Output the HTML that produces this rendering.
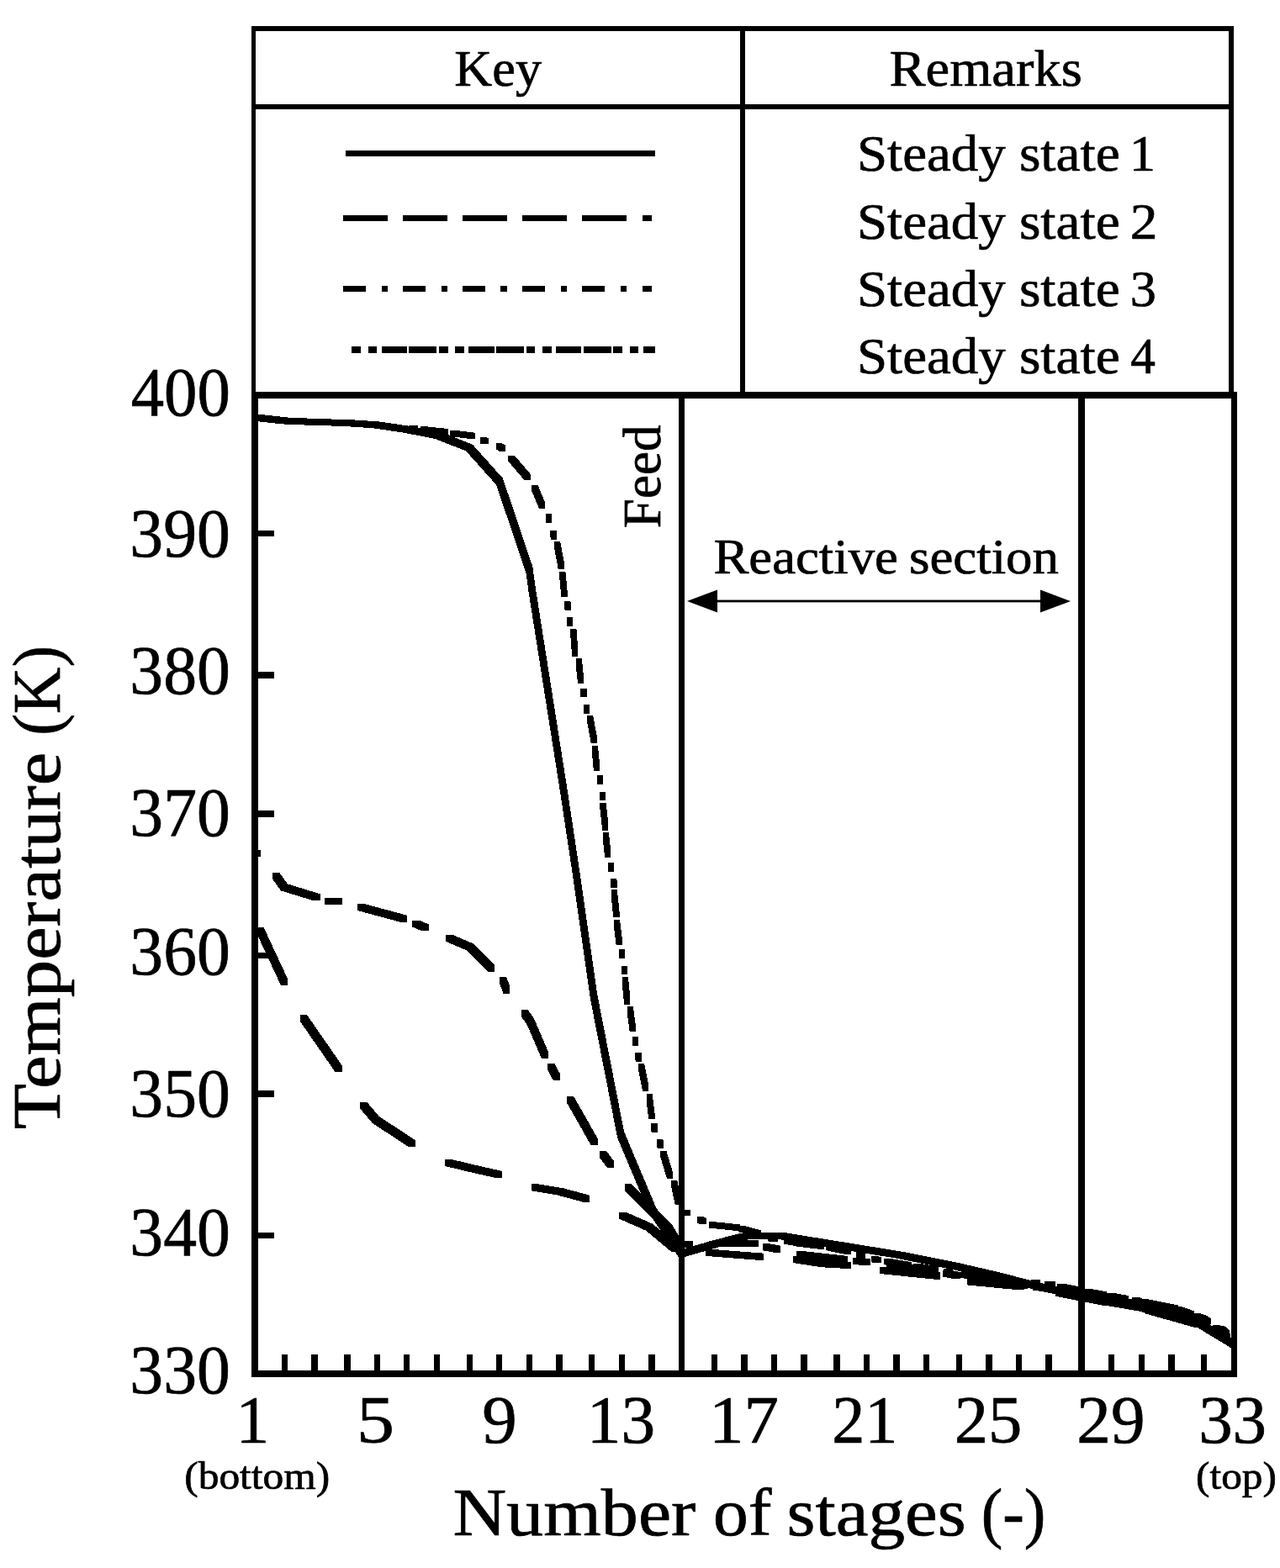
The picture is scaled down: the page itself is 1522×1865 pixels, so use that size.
<!DOCTYPE html>
<html lang="en"><head><meta charset="utf-8"><title>Temperature profiles</title>
<style>
html,body{margin:0;padding:0;background:#fff;}
body{width:1522px;height:1865px;overflow:hidden;font-family:"Liberation Serif",serif;}
svg{display:block}
</style></head><body>
<svg width="1522" height="1865" viewBox="0 0 1522 1865">
<rect width="1522" height="1865" fill="#fff"/>
<g fill="#000" shape-rendering="crispEdges">
<rect x="299" y="31" width="1168" height="6"/>
<rect x="299" y="124" width="1168" height="6"/>
<rect x="299" y="31" width="5" height="439"/>
<rect x="1461" y="31" width="6" height="439"/>
<rect x="880" y="31" width="6" height="439"/>
<rect x="299" y="466" width="1172" height="8"/>
<rect x="299" y="1630" width="1172" height="8"/>
<rect x="299" y="466" width="8" height="1172"/>
<rect x="1464" y="466" width="7" height="1172"/>
<rect x="807" y="466" width="7" height="1172"/>
<rect x="1282" y="466" width="8" height="1172"/>
<rect x="335" y="1611" width="7" height="21"/>
<rect x="370" y="1611" width="8" height="21"/>
<rect x="409" y="1611" width="8" height="21"/>
<rect x="445" y="1611" width="7" height="21"/>
<rect x="480" y="1611" width="7" height="21"/>
<rect x="516" y="1611" width="7" height="21"/>
<rect x="555" y="1611" width="7" height="21"/>
<rect x="590" y="1611" width="7" height="21"/>
<rect x="626" y="1611" width="7" height="21"/>
<rect x="661" y="1611" width="8" height="21"/>
<rect x="700" y="1611" width="7" height="21"/>
<rect x="736" y="1611" width="7" height="21"/>
<rect x="771" y="1611" width="8" height="21"/>
<rect x="846" y="1611" width="7" height="21"/>
<rect x="881" y="1611" width="8" height="21"/>
<rect x="917" y="1611" width="7" height="21"/>
<rect x="952" y="1611" width="8" height="21"/>
<rect x="991" y="1611" width="8" height="21"/>
<rect x="1027" y="1611" width="7" height="21"/>
<rect x="1062" y="1611" width="8" height="21"/>
<rect x="1098" y="1611" width="7" height="21"/>
<rect x="1137" y="1611" width="7" height="21"/>
<rect x="1172" y="1611" width="8" height="21"/>
<rect x="1208" y="1611" width="7" height="21"/>
<rect x="1243" y="1611" width="8" height="21"/>
<rect x="1318" y="1611" width="7" height="21"/>
<rect x="1354" y="1611" width="7" height="21"/>
<rect x="1389" y="1611" width="8" height="21"/>
<rect x="1428" y="1611" width="7" height="21"/>
<rect x="305" y="631" width="21" height="7"/>
<rect x="305" y="799" width="21" height="8"/>
<rect x="305" y="964" width="21" height="8"/>
<rect x="305" y="1133" width="21" height="7"/>
<rect x="305" y="1297" width="21" height="8"/>
<rect x="305" y="1466" width="21" height="7"/>
<rect x="411" y="179" width="368" height="7"/>
<rect x="408" y="256" width="53" height="7"/>
<rect x="479" y="256" width="53" height="7"/>
<rect x="550" y="256" width="53" height="7"/>
<rect x="621" y="256" width="53" height="7"/>
<rect x="692" y="256" width="53" height="7"/>
<rect x="764" y="256" width="11" height="7"/>
<rect x="408" y="340" width="27" height="7"/>
<rect x="454" y="340" width="7" height="7"/>
<rect x="479" y="340" width="27" height="7"/>
<rect x="525" y="340" width="7" height="7"/>
<rect x="550" y="340" width="27" height="7"/>
<rect x="595" y="340" width="8" height="7"/>
<rect x="621" y="340" width="27" height="7"/>
<rect x="667" y="340" width="7" height="7"/>
<rect x="692" y="340" width="27" height="7"/>
<rect x="738" y="340" width="7" height="7"/>
<rect x="764" y="340" width="11" height="7"/>
<rect x="418" y="412" width="11" height="8"/>
<rect x="438" y="412" width="10" height="8"/>
<rect x="454" y="412" width="30" height="8"/>
<rect x="486" y="412" width="33" height="8"/>
<rect x="522" y="412" width="11" height="8"/>
<rect x="541" y="412" width="11" height="8"/>
<rect x="557" y="412" width="31" height="8"/>
<rect x="590" y="412" width="33" height="8"/>
<rect x="626" y="412" width="10" height="8"/>
<rect x="645" y="412" width="11" height="8"/>
<rect x="661" y="412" width="30" height="8"/>
<rect x="694" y="412" width="33" height="8"/>
<rect x="729" y="412" width="11" height="8"/>
<rect x="749" y="412" width="10" height="8"/>
<rect x="765" y="412" width="14" height="8"/>
</g>
<g fill="#000" stroke="none">
<rect x="840" y="713.6" width="410" height="2.8"/>
<polygon points="817,715 853,701.5 853,728.5"/>
<polygon points="1273,715 1237,701.5 1237,728.5"/>
</g>
<g fill="#000" stroke="none" shape-rendering="crispEdges">
<path d="M299.1,492.6 306.9,492.6 343.3,496.6 343.3,504.4 335.5,504.4 299.1,500.4ZM335.5,496.6 343.3,496.6 379.7,498.1 379.7,505.9 371.9,505.9 335.5,504.4ZM371.9,498.1 379.7,498.1 416.1,499.1 416.1,506.9 408.3,506.9 371.9,505.9ZM408.3,499.1 416.1,499.1 452.5,501.6 452.5,509.4 444.7,509.4 408.3,506.9ZM444.7,501.6 452.5,501.6 488.9,507.1 488.9,514.9 481.1,514.9 444.7,509.4ZM481.1,507.1 488.9,507.1 525.2,514.1 525.2,521.9 517.4,521.9 481.1,514.9ZM517.4,514.1 525.2,514.1 561.9,528.7 561.9,536.5 554.1,536.5 517.4,521.9ZM554.1,528.7 561.9,528.7 597.9,568.9 597.9,576.7 590.1,576.7 554.1,536.5ZM590.1,568.9 597.9,568.9 633.4,674.1 633.4,681.9 625.6,681.9 590.1,576.7ZM625.6,674.1 633.4,674.1 636.3,696.1 636.3,703.9 628.5,703.9 625.6,681.9ZM628.5,696.1 636.3,696.1 674.9,941.1 674.9,948.9 667.1,948.9 628.5,703.9ZM667.1,941.1 674.9,941.1 689.2,1036.1 689.2,1043.9 681.4,1043.9 667.1,948.9ZM681.4,1036.1 689.2,1036.1 709.9,1181.1 709.9,1188.9 702.1,1188.9 681.4,1043.9ZM702.1,1181.1 709.9,1181.1 730.4,1286.1 730.4,1293.9 722.6,1293.9 702.1,1188.9ZM722.6,1286.1 730.4,1286.1 741.9,1345.5 741.9,1353.3 734.1,1353.3 722.6,1293.9ZM734.1,1345.5 741.9,1345.5 780.0,1436.1 780.0,1443.9 772.2,1443.9 734.1,1353.3ZM772.2,1436.1 780.0,1436.1 814.4,1487.1 814.4,1494.9 806.6,1494.9 772.2,1443.9ZM806.6,1487.1 844.9,1476.1 852.7,1476.1 852.7,1483.9 814.4,1494.9 806.6,1494.9ZM844.9,1476.1 881.3,1466.6 889.1,1466.6 889.1,1474.4 852.7,1483.9 844.9,1483.9ZM881.3,1466.6 897.1,1466.1 904.9,1466.1 904.9,1473.9 889.1,1474.4 881.3,1474.4ZM897.1,1466.1 904.9,1466.1 934.9,1466.4 934.9,1474.2 927.1,1474.2 897.1,1473.9ZM927.1,1466.4 934.9,1466.4 1073.9,1488.9 1073.9,1496.7 1066.1,1496.7 927.1,1474.2ZM1066.1,1488.9 1073.9,1488.9 1139.6,1502.0 1139.6,1509.8 1131.8,1509.8 1066.1,1496.7ZM1131.8,1502.0 1139.6,1502.0 1191.9,1514.1 1191.9,1521.9 1184.1,1521.9 1131.8,1509.8ZM1184.1,1514.1 1191.9,1514.1 1223.9,1522.6 1223.9,1530.4 1216.1,1530.4 1184.1,1521.9ZM1216.1,1522.6 1223.9,1522.6 1257.9,1530.6 1257.9,1538.4 1250.1,1538.4 1216.1,1530.4ZM1250.1,1530.6 1257.9,1530.6 1293.9,1537.6 1293.9,1545.4 1286.1,1545.4 1250.1,1538.4ZM1286.1,1537.6 1293.9,1537.6 1320.9,1544.6 1320.9,1552.4 1313.1,1552.4 1286.1,1545.4ZM1313.1,1544.6 1320.9,1544.6 1360.9,1551.6 1360.9,1559.4 1353.1,1559.4 1313.1,1552.4ZM1353.1,1551.6 1360.9,1551.6 1394.9,1558.6 1394.9,1566.4 1387.1,1566.4 1353.1,1559.4ZM1387.1,1558.6 1394.9,1558.6 1428.9,1569.6 1428.9,1577.4 1421.1,1577.4 1387.1,1566.4ZM1421.1,1569.6 1428.9,1569.6 1470.9,1595.1 1470.9,1602.9 1463.1,1602.9 1421.1,1577.4Z"/>
<path d="M486.0,505.7 493.2,505.7 497.0,506.1 497.0,513.3 489.8,513.3 486.0,512.9Z"/>
<path d="M500.0,507.3 507.2,507.3 532.5,510.0 532.5,517.2 525.3,517.2 500.0,514.5Z"/>
<path d="M534.5,511.8 541.7,511.8 565.0,514.7 565.0,521.9 557.8,521.9 534.5,519.0Z"/>
<path d="M571.0,520.3 578.2,520.3 581.0,521.0 581.0,528.2 573.8,528.2 571.0,527.5Z"/>
<path d="M590.0,527.4 597.2,527.4 600.8,529.4 600.8,536.6 593.6,536.6 590.0,534.6Z"/>
<path d="M604.4,541.6 611.6,541.6 630.8,564.0 630.8,571.2 623.6,571.2 604.4,548.8Z"/>
<path d="M632.3,576.9 639.5,576.9 648.1,597.6 648.1,604.8 640.9,604.8 632.3,584.1Z"/>
<path d="M648.6,611.4 655.8,611.4 656.4,614.9 656.4,622.1 649.2,622.1 648.6,618.6Z"/>
<path d="M654.4,631.1 661.6,631.1 662.1,634.6 662.1,641.8 654.9,641.8 654.4,638.3Z"/>
<path d="M659.0,644.3 666.2,644.3 671.0,669.9 671.0,677.1 663.8,677.1 659.0,651.5Z"/>
<path d="M665.2,679.6 672.4,679.6 674.6,702.8 674.6,710.0 667.4,710.0 665.2,686.8Z"/>
<path d="M671.2,715.1 678.4,715.1 678.8,718.6 678.8,725.8 671.6,725.8 671.2,722.3Z"/>
<path d="M673.7,734.2 680.9,734.2 681.3,737.5 681.3,744.7 674.1,744.7 673.7,741.4Z"/>
<path d="M678.2,748.1 685.4,748.1 687.4,773.6 687.4,780.8 680.2,780.8 678.2,755.3Z"/>
<path d="M684.5,783.0 691.7,783.0 694.2,805.8 694.2,813.0 687.0,813.0 684.5,790.2Z"/>
<path d="M690.3,819.4 697.5,819.4 697.7,821.8 697.7,829.0 690.5,829.0 690.3,826.6Z"/>
<path d="M693.7,838.3 700.9,838.3 701.3,841.4 701.3,848.6 694.1,848.6 693.7,845.5Z"/>
<path d="M698.0,851.1 705.2,851.1 709.9,876.4 709.9,883.6 702.7,883.6 698.0,858.3Z"/>
<path d="M703.8,887.3 711.0,887.3 713.1,909.6 713.1,916.8 705.9,916.8 703.8,894.5Z"/>
<path d="M709.7,922.0 716.9,922.0 717.3,925.8 717.3,933.0 710.1,933.0 709.7,929.2Z"/>
<path d="M712.8,941.8 720.0,941.8 720.2,944.3 720.2,951.5 713.0,951.5 712.8,949.0Z"/>
<path d="M713.4,955.1 720.6,955.1 723.4,980.4 723.4,987.6 716.2,987.6 713.4,962.3Z"/>
<path d="M716.7,990.1 723.9,990.1 726.4,1012.8 726.4,1020.0 719.2,1020.0 716.7,997.3Z"/>
<path d="M722.7,1025.9 729.9,1025.9 730.3,1029.4 730.3,1036.6 723.1,1036.6 722.7,1033.1Z"/>
<path d="M726.1,1045.1 733.3,1045.1 733.7,1048.6 733.7,1055.8 726.5,1055.8 726.1,1052.3Z"/>
<path d="M726.5,1057.9 733.7,1057.9 736.5,1083.6 736.5,1090.8 729.3,1090.8 726.5,1065.1Z"/>
<path d="M729.8,1094.1 737.0,1094.1 739.8,1116.8 739.8,1124.0 732.6,1124.0 729.8,1101.3Z"/>
<path d="M735.7,1129.2 742.9,1129.2 743.3,1132.7 743.3,1139.9 736.1,1139.9 735.7,1136.4Z"/>
<path d="M738.8,1148.9 746.0,1148.9 746.2,1151.8 746.2,1159.0 739.0,1159.0 738.8,1156.1Z"/>
<path d="M739.7,1162.0 746.9,1162.0 749.4,1187.6 749.4,1194.8 742.2,1194.8 739.7,1169.2Z"/>
<path d="M745.6,1197.2 752.8,1197.2 755.9,1219.6 755.9,1226.8 748.7,1226.8 745.6,1204.4Z"/>
<path d="M751.7,1233.0 758.9,1233.0 759.3,1236.8 759.3,1244.0 752.1,1244.0 751.7,1240.2Z"/>
<path d="M755.3,1252.0 762.5,1252.0 763.0,1255.8 763.0,1263.0 755.8,1263.0 755.3,1259.2Z"/>
<path d="M758.9,1265.1 766.1,1265.1 771.3,1290.7 771.3,1297.9 764.1,1297.9 758.9,1272.3Z"/>
<path d="M768.5,1301.2 775.7,1301.2 778.5,1323.6 778.5,1330.8 771.3,1330.8 768.5,1308.4Z"/>
<path d="M774.3,1336.4 781.5,1336.4 781.8,1339.8 781.8,1347.0 774.6,1347.0 774.3,1343.6Z"/>
<path d="M781.2,1355.3 788.4,1355.3 788.9,1358.9 788.9,1366.1 781.7,1366.1 781.2,1362.5Z"/>
<path d="M785.3,1369.2 792.5,1369.2 800.1,1394.5 800.1,1401.7 792.9,1401.7 785.3,1376.4Z"/>
<path d="M798.1,1404.2 805.3,1404.2 809.8,1425.4 809.8,1432.6 802.6,1432.6 798.1,1411.4Z"/>
<path d="M813.9,1438.6 821.1,1438.6 821.1,1445.8 813.9,1445.8Z"/>
<path d="M829.0,1447.1 836.2,1447.1 840.0,1449.2 840.0,1456.4 832.8,1456.4 829.0,1454.3Z"/>
<path d="M843.0,1453.3 850.2,1453.3 879.4,1456.4 879.4,1463.6 872.2,1463.6 843.0,1460.5ZM872.2,1456.4 879.4,1456.4 879.5,1456.4 879.5,1463.6 872.3,1463.6 872.2,1463.6Z"/>
<path d="M878.0,1458.0 885.2,1458.0 905.0,1463.4 905.0,1470.6 897.8,1470.6 878.0,1465.2ZM897.8,1463.4 905.0,1463.4 905.1,1463.4 905.1,1470.6 897.9,1470.6 897.8,1470.6Z"/>
<path d="M912.9,1468.8 920.1,1468.8 922.6,1469.7 922.6,1476.9 915.4,1476.9 912.9,1476.0ZM915.4,1469.7 922.6,1469.7 925.1,1470.1 925.1,1477.3 917.9,1477.3 915.4,1476.9Z"/>
<path d="M931.9,1472.3 939.1,1472.3 941.6,1472.7 941.6,1479.9 934.4,1479.9 931.9,1479.5ZM934.4,1472.7 941.6,1472.7 944.7,1473.4 944.7,1480.6 937.5,1480.6 934.4,1479.9Z"/>
<path d="M942.9,1474.8 950.1,1474.8 950.6,1474.9 950.6,1482.1 943.4,1482.1 942.9,1482.0ZM943.4,1474.9 950.6,1474.9 979.5,1478.4 979.5,1485.6 972.3,1485.6 943.4,1482.1Z"/>
<path d="M982.0,1480.0 989.2,1480.0 1012.0,1484.7 1012.0,1491.9 1004.8,1491.9 982.0,1487.2Z"/>
<path d="M1018.0,1488.4 1025.2,1488.4 1029.0,1489.6 1029.0,1496.8 1021.8,1496.8 1018.0,1495.6Z"/>
<path d="M1035.9,1494.0 1043.0,1494.0 1045.6,1494.8 1045.6,1502.0 1038.4,1502.0 1035.9,1501.2ZM1038.4,1494.8 1045.6,1494.8 1048.1,1495.2 1048.1,1502.4 1041.0,1502.4 1038.4,1502.0Z"/>
<path d="M1051.0,1496.9 1058.2,1496.9 1084.0,1501.2 1084.0,1508.4 1076.8,1508.4 1051.0,1504.1Z"/>
<path d="M1086.0,1502.7 1093.2,1502.7 1103.6,1504.4 1103.6,1511.6 1096.4,1511.6 1086.0,1509.9ZM1096.4,1504.4 1103.6,1504.4 1116.0,1506.6 1116.0,1513.8 1108.8,1513.8 1096.4,1511.6Z"/>
<path d="M1122.0,1509.0 1129.2,1509.0 1133.0,1509.7 1133.0,1516.9 1125.8,1516.9 1122.0,1516.2Z"/>
<path d="M1142.0,1512.6 1149.2,1512.6 1153.6,1513.4 1153.6,1520.6 1146.4,1520.6 1142.0,1519.8ZM1146.4,1513.4 1153.6,1513.4 1154.6,1513.5 1154.6,1520.7 1147.4,1520.7 1146.4,1520.6Z"/>
<path d="M1155.0,1514.4 1162.2,1514.4 1188.0,1517.5 1188.0,1524.7 1180.8,1524.7 1155.0,1521.6Z"/>
<path d="M1190.0,1518.6 1197.2,1518.6 1203.6,1519.4 1203.6,1526.6 1196.4,1526.6 1190.0,1525.8ZM1196.4,1519.4 1203.6,1519.4 1220.0,1520.9 1220.0,1528.1 1212.8,1528.1 1196.4,1526.6Z"/>
<path d="M1226.0,1522.2 1233.2,1522.2 1237.0,1522.5 1237.0,1529.7 1229.8,1529.7 1226.0,1529.4Z"/>
<path d="M1241.9,1523.7 1249.0,1523.7 1251.6,1523.9 1251.6,1531.1 1244.4,1531.1 1241.9,1530.9ZM1244.4,1523.9 1251.6,1523.9 1254.7,1524.5 1254.7,1531.7 1247.5,1531.7 1244.4,1531.1Z"/>
<path d="M1257.0,1526.5 1264.2,1526.5 1282.0,1530.1 1282.0,1537.3 1274.8,1537.3 1257.0,1533.7Z"/>
<path d="M1290.0,1533.0 1297.2,1533.0 1316.0,1536.4 1316.0,1543.6 1308.8,1543.6 1290.0,1540.2Z"/>
<path d="M1316.0,1537.7 1323.2,1537.7 1342.0,1541.0 1342.0,1548.2 1334.8,1548.2 1316.0,1544.9Z"/>
<path d="M1345.9,1542.9 1353.0,1542.9 1355.6,1543.4 1355.6,1550.6 1348.4,1550.6 1345.9,1550.1ZM1348.4,1543.4 1355.6,1543.4 1358.1,1543.9 1358.1,1551.1 1351.0,1551.1 1348.4,1550.6Z"/>
<path d="M1357.0,1545.1 1364.2,1545.1 1400.6,1552.4 1400.6,1559.6 1393.4,1559.6 1357.0,1552.3ZM1393.4,1552.4 1400.6,1552.4 1401.1,1552.6 1401.1,1559.8 1393.9,1559.8 1393.4,1559.6Z"/>
<path d="M1398.0,1554.1 1405.2,1554.1 1420.0,1559.5 1420.0,1566.7 1412.8,1566.7 1398.0,1561.3Z"/>
<path d="M1420.0,1562.1 1427.2,1562.1 1433.6,1564.4 1433.6,1571.6 1426.4,1571.6 1420.0,1569.3ZM1426.4,1564.4 1433.6,1564.4 1440.0,1568.1 1440.0,1575.3 1432.8,1575.3 1426.4,1571.6Z"/>
<path d="M1448.9,1577.4 1456.0,1577.4 1458.6,1578.9 1458.6,1586.1 1451.4,1586.1 1448.9,1584.6ZM1451.4,1578.9 1458.6,1578.9 1461.7,1582.3 1461.7,1589.5 1454.5,1589.5 1451.4,1586.1Z"/>
<path d="M302.0,1011.2 310.0,1011.2 310.1,1011.3 310.1,1019.3 302.1,1019.3 302.0,1019.2Z"/>
<path d="M323.9,1037.5 331.9,1037.5 342.0,1051.4 342.0,1059.4 334.0,1059.4 323.9,1045.5ZM334.0,1051.4 342.0,1051.4 380.7,1063.3 380.7,1071.3 372.7,1071.3 334.0,1059.4Z"/>
<path d="M386.2,1067.5 407.0,1067.5 407.0,1075.5 386.2,1075.5Z"/>
<path d="M425.1,1075.0 433.1,1075.0 483.9,1088.7 483.9,1096.7 475.9,1096.7 425.1,1083.0Z"/>
<path d="M490.1,1094.5 498.1,1094.5 509.8,1099.3 509.8,1107.3 501.8,1107.3 490.1,1102.5Z"/>
<path d="M529.6,1111.6 537.6,1111.6 562.3,1122.2 562.3,1130.2 554.3,1130.2 529.6,1119.6ZM554.3,1122.2 562.3,1122.2 588.0,1147.6 588.0,1155.6 580.0,1155.6 554.3,1130.2Z"/>
<path d="M594.3,1162.2 602.3,1162.2 606.4,1173.6 606.4,1181.6 598.4,1181.6 594.3,1170.2Z"/>
<path d="M619.7,1201.3 627.7,1201.3 634.5,1210.5 634.5,1218.5 626.5,1218.5 619.7,1209.3ZM626.5,1210.5 634.5,1210.5 652.0,1251.1 652.0,1259.1 644.0,1259.1 626.5,1218.5Z"/>
<path d="M651.3,1265.0 659.3,1265.0 665.7,1276.8 665.7,1284.8 657.7,1284.8 651.3,1273.0Z"/>
<path d="M674.3,1304.3 682.3,1304.3 710.8,1354.3 710.8,1362.3 702.8,1362.3 674.3,1312.3Z"/>
<path d="M713.0,1368.9 721.0,1368.9 729.8,1380.9 729.8,1388.9 721.8,1388.9 713.0,1376.9Z"/>
<path d="M742.5,1408.0 750.5,1408.0 799.1,1456.5 799.1,1464.5 791.1,1464.5 742.5,1416.0ZM791.1,1456.5 799.1,1456.5 809.6,1474.0 809.6,1482.0 801.6,1482.0 791.1,1464.5Z"/>
<path d="M814.0,1475.9 816.0,1475.8 824.0,1475.8 824.0,1483.8 822.0,1483.9 814.0,1483.9Z"/>
<path d="M847.6,1475.4 902.0,1475.4 902.0,1483.4 847.6,1483.4Z"/>
<path d="M907.0,1479.3 915.0,1479.3 928.0,1481.7 928.0,1489.7 920.0,1489.7 907.0,1487.3Z"/>
<path d="M947.0,1488.0 955.0,1488.0 1008.0,1494.0 1008.0,1502.0 1000.0,1502.0 947.0,1496.0Z"/>
<path d="M1014.0,1495.7 1022.0,1495.7 1035.0,1497.2 1035.0,1505.2 1027.0,1505.2 1014.0,1503.7Z"/>
<path d="M1054.0,1500.6 1062.0,1500.6 1115.0,1508.4 1115.0,1516.4 1107.0,1516.4 1054.0,1508.6Z"/>
<path d="M1121.0,1510.7 1129.0,1510.7 1142.0,1513.0 1142.0,1521.0 1134.0,1521.0 1121.0,1518.7Z"/>
<path d="M1161.0,1517.5 1169.0,1517.5 1222.0,1524.5 1222.0,1532.5 1214.0,1532.5 1161.0,1525.5Z"/>
<path d="M1228.0,1526.5 1236.0,1526.5 1249.0,1528.5 1249.0,1536.5 1241.0,1536.5 1228.0,1534.5Z"/>
<path d="M1268.0,1532.7 1276.0,1532.7 1329.0,1542.3 1329.0,1550.3 1321.0,1550.3 1268.0,1540.7Z"/>
<path d="M1335.0,1544.7 1343.0,1544.7 1356.0,1547.0 1356.0,1555.0 1348.0,1555.0 1335.0,1552.7Z"/>
<path d="M1375.0,1552.1 1383.0,1552.1 1436.0,1566.9 1436.0,1574.9 1428.0,1574.9 1375.0,1560.1Z"/>
<path d="M1442.0,1576.1 1450.0,1576.1 1463.0,1586.5 1463.0,1594.5 1455.0,1594.5 1442.0,1584.1Z"/>
<path d="M305.7,1103.3 313.7,1103.3 342.1,1164.3 342.1,1172.3 334.1,1172.3 305.7,1111.3Z"/>
<path d="M357.2,1207.3 365.2,1207.3 379.8,1228.5 379.8,1236.5 371.8,1236.5 357.2,1215.3ZM371.8,1228.5 379.8,1228.5 406.8,1267.4 406.8,1275.4 398.8,1275.4 371.8,1236.5Z"/>
<path d="M428.0,1310.5 436.0,1310.5 450.9,1328.0 450.9,1336.0 442.9,1336.0 428.0,1318.5ZM442.9,1328.0 450.9,1328.0 493.8,1356.0 493.8,1364.0 485.8,1364.0 442.9,1336.0Z"/>
<path d="M529.1,1379.0 537.1,1379.0 566.6,1386.0 566.6,1394.0 558.6,1394.0 529.1,1387.0ZM558.6,1386.0 566.6,1386.0 597.1,1393.0 597.1,1401.0 589.1,1401.0 558.6,1394.0Z"/>
<path d="M632.0,1408.4 640.0,1408.4 671.1,1413.6 671.1,1421.6 663.1,1421.6 632.0,1416.4ZM663.1,1413.6 671.1,1413.6 701.0,1421.7 701.0,1429.7 693.0,1429.7 663.1,1421.6Z"/>
<path d="M736.1,1441.6 744.1,1441.6 776.1,1455.7 776.1,1463.7 768.1,1463.7 736.1,1449.6ZM768.1,1455.7 776.1,1455.7 806.0,1480.7 806.0,1488.7 798.0,1488.7 768.1,1463.7Z"/>
<path d="M839.0,1485.9 847.0,1485.9 908.0,1490.7 908.0,1498.7 900.0,1498.7 839.0,1493.9Z"/>
<path d="M943.0,1494.1 951.0,1494.1 984.0,1499.2 984.0,1507.2 976.0,1507.2 943.0,1502.1ZM976.0,1499.2 984.0,1499.2 1012.0,1500.8 1012.0,1508.8 1004.0,1508.8 976.0,1507.2Z"/>
<path d="M1046.0,1507.0 1054.0,1507.0 1118.0,1513.5 1118.0,1521.5 1110.0,1521.5 1046.0,1515.0ZM1110.0,1513.5 1118.0,1513.5 1118.4,1513.6 1118.4,1521.6 1110.4,1521.6 1110.0,1521.5Z"/>
<path d="M1150.0,1520.4 1158.0,1520.4 1217.8,1526.2 1217.8,1534.2 1209.8,1534.2 1150.0,1528.4Z"/>
<path d="M1255.0,1533.8 1263.0,1533.8 1322.0,1545.2 1322.0,1553.2 1314.0,1553.2 1255.0,1541.8Z"/>
<path d="M1361.0,1554.1 1369.0,1554.1 1428.0,1570.9 1428.0,1578.9 1420.0,1578.9 1361.0,1562.1Z"/>
</g>
<g font-family="'Liberation Serif', serif" fill="#000" stroke="#000" stroke-width="0.7" stroke-linejoin="round">
<text y="101.8" font-size="62" ><tspan x="540.39" textLength="103.76" lengthAdjust="spacingAndGlyphs">Key</tspan></text>
<text y="102.3" font-size="62" ><tspan x="1057.63" textLength="229.10" lengthAdjust="spacingAndGlyphs">Remarks</tspan></text>
<text y="202.7" font-size="62" ><tspan x="1019.00" textLength="176.71" lengthAdjust="spacingAndGlyphs">Steady</tspan> <tspan x="1211.91" textLength="119.78" lengthAdjust="spacingAndGlyphs">state</tspan> <tspan x="1343.06" textLength="30.93" lengthAdjust="spacingAndGlyphs">1</tspan></text>
<text y="283.6" font-size="62" ><tspan x="1019.00" textLength="176.71" lengthAdjust="spacingAndGlyphs">Steady</tspan> <tspan x="1211.91" textLength="119.78" lengthAdjust="spacingAndGlyphs">state</tspan> <tspan x="1343.85" textLength="32.69" lengthAdjust="spacingAndGlyphs">2</tspan></text>
<text y="364" font-size="62" ><tspan x="1019.00" textLength="176.71" lengthAdjust="spacingAndGlyphs">Steady</tspan> <tspan x="1211.91" textLength="119.78" lengthAdjust="spacingAndGlyphs">state</tspan> <tspan x="1343.74" textLength="31.12" lengthAdjust="spacingAndGlyphs">3</tspan></text>
<text y="444.4" font-size="62" ><tspan x="1019.00" textLength="176.71" lengthAdjust="spacingAndGlyphs">Steady</tspan> <tspan x="1211.91" textLength="119.78" lengthAdjust="spacingAndGlyphs">state</tspan> <tspan x="1344.15" textLength="29.65" lengthAdjust="spacingAndGlyphs">4</tspan></text>
<text y="493.8" font-size="83" ><tspan x="155.63" textLength="118.21" lengthAdjust="spacingAndGlyphs">400</tspan></text>
<text y="661.6" font-size="83" ><tspan x="154.31" textLength="119.56" lengthAdjust="spacingAndGlyphs">390</tspan></text>
<text y="825.3" font-size="83" ><tspan x="154.31" textLength="119.56" lengthAdjust="spacingAndGlyphs">380</tspan></text>
<text y="993.8" font-size="83" ><tspan x="154.31" textLength="119.56" lengthAdjust="spacingAndGlyphs">370</tspan></text>
<text y="1159.2" font-size="83" ><tspan x="154.31" textLength="119.56" lengthAdjust="spacingAndGlyphs">360</tspan></text>
<text y="1328.4" font-size="83" ><tspan x="154.31" textLength="119.56" lengthAdjust="spacingAndGlyphs">350</tspan></text>
<text y="1492.5" font-size="83" ><tspan x="154.31" textLength="119.56" lengthAdjust="spacingAndGlyphs">340</tspan></text>
<text y="1657.3" font-size="83" ><tspan x="154.31" textLength="119.56" lengthAdjust="spacingAndGlyphs">330</tspan></text>
<text y="1715.6" font-size="81" ><tspan x="280.58" textLength="39.73" lengthAdjust="spacingAndGlyphs">1</tspan></text>
<text y="1715.6" font-size="81" ><tspan x="424.07" textLength="44.99" lengthAdjust="spacingAndGlyphs">5</tspan></text>
<text y="1715.6" font-size="81" ><tspan x="573.19" textLength="41.49" lengthAdjust="spacingAndGlyphs">9</tspan></text>
<text y="1715.6" font-size="81" ><tspan x="697.83" textLength="81.29" lengthAdjust="spacingAndGlyphs">13</tspan></text>
<text y="1715.6" font-size="81" ><tspan x="842.99" textLength="82.86" lengthAdjust="spacingAndGlyphs">17</tspan></text>
<text y="1715.6" font-size="81" ><tspan x="989.17" textLength="78.27" lengthAdjust="spacingAndGlyphs">21</tspan></text>
<text y="1715.6" font-size="81" ><tspan x="1134.77" textLength="80.62" lengthAdjust="spacingAndGlyphs">25</tspan></text>
<text y="1715.6" font-size="81" ><tspan x="1280.34" textLength="81.16" lengthAdjust="spacingAndGlyphs">29</tspan></text>
<text y="1715.6" font-size="81" ><tspan x="1425.15" textLength="80.95" lengthAdjust="spacingAndGlyphs">33</tspan></text>
<text y="1770.6" font-size="46" ><tspan x="219.20" textLength="173.08" lengthAdjust="spacingAndGlyphs">(bottom)</tspan></text>
<text y="1770.6" font-size="46" ><tspan x="1422.00" textLength="96.01" lengthAdjust="spacingAndGlyphs">(top)</tspan></text>
<text y="1826.1" font-size="81" ><tspan x="538.40" textLength="289.10" lengthAdjust="spacingAndGlyphs">Number</tspan> <tspan x="848.06" textLength="69.58" lengthAdjust="spacingAndGlyphs">of</tspan> <tspan x="935.55" textLength="213.18" lengthAdjust="spacingAndGlyphs">stages</tspan> <tspan x="1166.63" textLength="76.81" lengthAdjust="spacingAndGlyphs">(-)</tspan></text>
<text y="682.1" font-size="60" ><tspan x="848.42" textLength="219.57" lengthAdjust="spacingAndGlyphs">Reactive</tspan> <tspan x="1080.93" textLength="178.02" lengthAdjust="spacingAndGlyphs">section</tspan></text>
<text transform="translate(784.9,0) rotate(-90)" y="0" font-size="63" ><tspan x="-628.20" textLength="122.67" lengthAdjust="spacingAndGlyphs">Feed</tspan></text>
<text transform="translate(70.8,0) rotate(-90)" y="0" font-size="81" ><tspan x="-1343.20" textLength="448.47" lengthAdjust="spacingAndGlyphs">Temperature</tspan> <tspan x="-874.77" textLength="106.80" lengthAdjust="spacingAndGlyphs">(K)</tspan></text>
</g>
</svg>
</body></html>
